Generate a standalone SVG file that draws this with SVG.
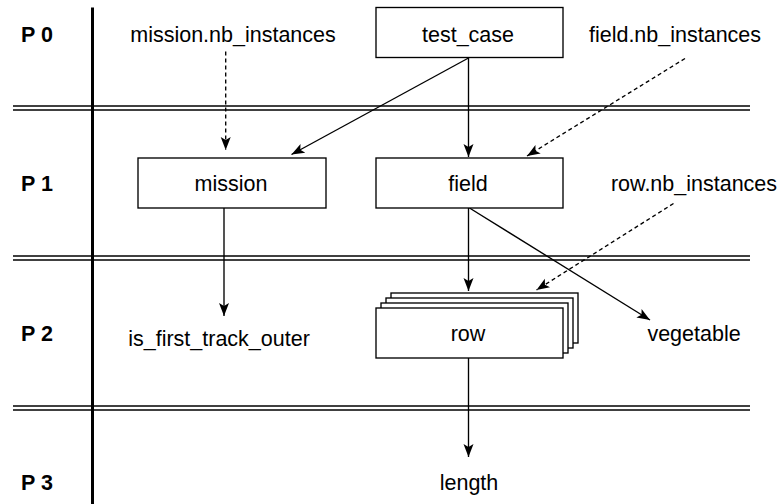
<svg xmlns="http://www.w3.org/2000/svg" width="784" height="504" viewBox="0 0 784 504">
<style>
.t{font-family:"Liberation Sans",Arial,Helvetica,sans-serif;font-size:21.5px;fill:#000;text-anchor:middle}
.p{font-family:"Liberation Sans",Arial,Helvetica,sans-serif;font-size:21.5px;font-weight:bold;fill:#000}
.box{fill:#fff;stroke:#000;stroke-width:1.35}
.sep{stroke:#000;stroke-width:1.3;fill:none}
.c{stroke:#000;stroke-width:1.35;fill:none}
.d{stroke:#000;stroke-width:1.35;fill:none;stroke-dasharray:4 3}
</style>
<defs>
<marker id="ah" markerUnits="userSpaceOnUse" markerWidth="14" markerHeight="12" viewBox="0 0 14 12" refX="13" refY="6" orient="auto">
<path d="M0,1 L13,6 L0,11 L3,6 Z" fill="#000"/>
</marker>
</defs>
<rect width="784" height="504" fill="#fff"/>
<g id="lanes">
<line class="sep" x1="13" y1="106" x2="750" y2="106"/>
<line class="sep" x1="13" y1="110" x2="750" y2="110"/>
<line class="sep" x1="13" y1="256" x2="750" y2="256"/>
<line class="sep" x1="13" y1="260" x2="750" y2="260"/>
<line class="sep" x1="13" y1="406" x2="750" y2="406"/>
<line class="sep" x1="13" y1="410" x2="750" y2="410"/>
<line x1="92.5" y1="7.5" x2="92.5" y2="504" stroke="#000" stroke-width="3"/>
<text class="p" x="21" y="41.5" xml:space="preserve">P 0</text>
<text class="p" x="21" y="191" xml:space="preserve">P 1</text>
<text class="p" x="21" y="341" xml:space="preserve">P 2</text>
<text class="p" x="21" y="490" xml:space="preserve">P 3</text>
</g>
<g id="connectors">
<line class="d" x1="225.7" y1="51.5" x2="225.7" y2="150" marker-end="url(#ah)"/>
<line class="c" x1="468.5" y1="58" x2="291.5" y2="154.5" marker-end="url(#ah)"/>
<line class="c" x1="468.5" y1="58" x2="468.5" y2="157" marker-end="url(#ah)"/>
<line class="d" x1="685" y1="58.5" x2="527" y2="156" marker-end="url(#ah)"/>
<line class="c" x1="224" y1="208" x2="224" y2="316" marker-end="url(#ah)"/>
<line class="c" x1="468.5" y1="208" x2="468.5" y2="291" marker-end="url(#ah)"/>
<line class="d" x1="673.5" y1="203.5" x2="536.5" y2="290" marker-end="url(#ah)"/>
<line class="c" x1="469.5" y1="208" x2="650" y2="320" marker-end="url(#ah)"/>
<line class="c" x1="468.5" y1="358" x2="468.5" y2="457" marker-end="url(#ah)"/>
</g>
<g id="test_case">
<rect class="box" x="376" y="7.5" width="187" height="50"/>
<text class="t" x="468" y="41.5">test_case</text>
</g>
<g id="mission_nb_instances">
<text class="t" x="233" y="42">mission.nb_instances</text>
</g>
<g id="field_nb_instances">
<text class="t" x="675" y="42">field.nb_instances</text>
</g>
<g id="mission">
<rect class="box" x="138" y="158" width="188" height="50"/>
<text class="t" x="231" y="190.5">mission</text>
</g>
<g id="field">
<rect class="box" x="376" y="158" width="187" height="50"/>
<text class="t" x="468" y="190.5">field</text>
</g>
<g id="row_nb_instances">
<text class="t" x="694" y="190.5">row.nb_instances</text>
</g>
<g id="row">
<rect class="box" x="391" y="293" width="187" height="50"/>
<rect class="box" x="386" y="298" width="187" height="50"/>
<rect class="box" x="381" y="303" width="187" height="50"/>
<rect class="box" x="376" y="308" width="187" height="50"/>
<text class="t" x="468" y="340.5">row</text>
</g>
<g id="is_first_track_outer">
<text class="t" x="219" y="345.5">is_first_track_outer</text>
</g>
<g id="vegetable">
<text class="t" x="694" y="340.5">vegetable</text>
</g>
<g id="length">
<text class="t" x="469" y="490">length</text>
</g>
</svg>
